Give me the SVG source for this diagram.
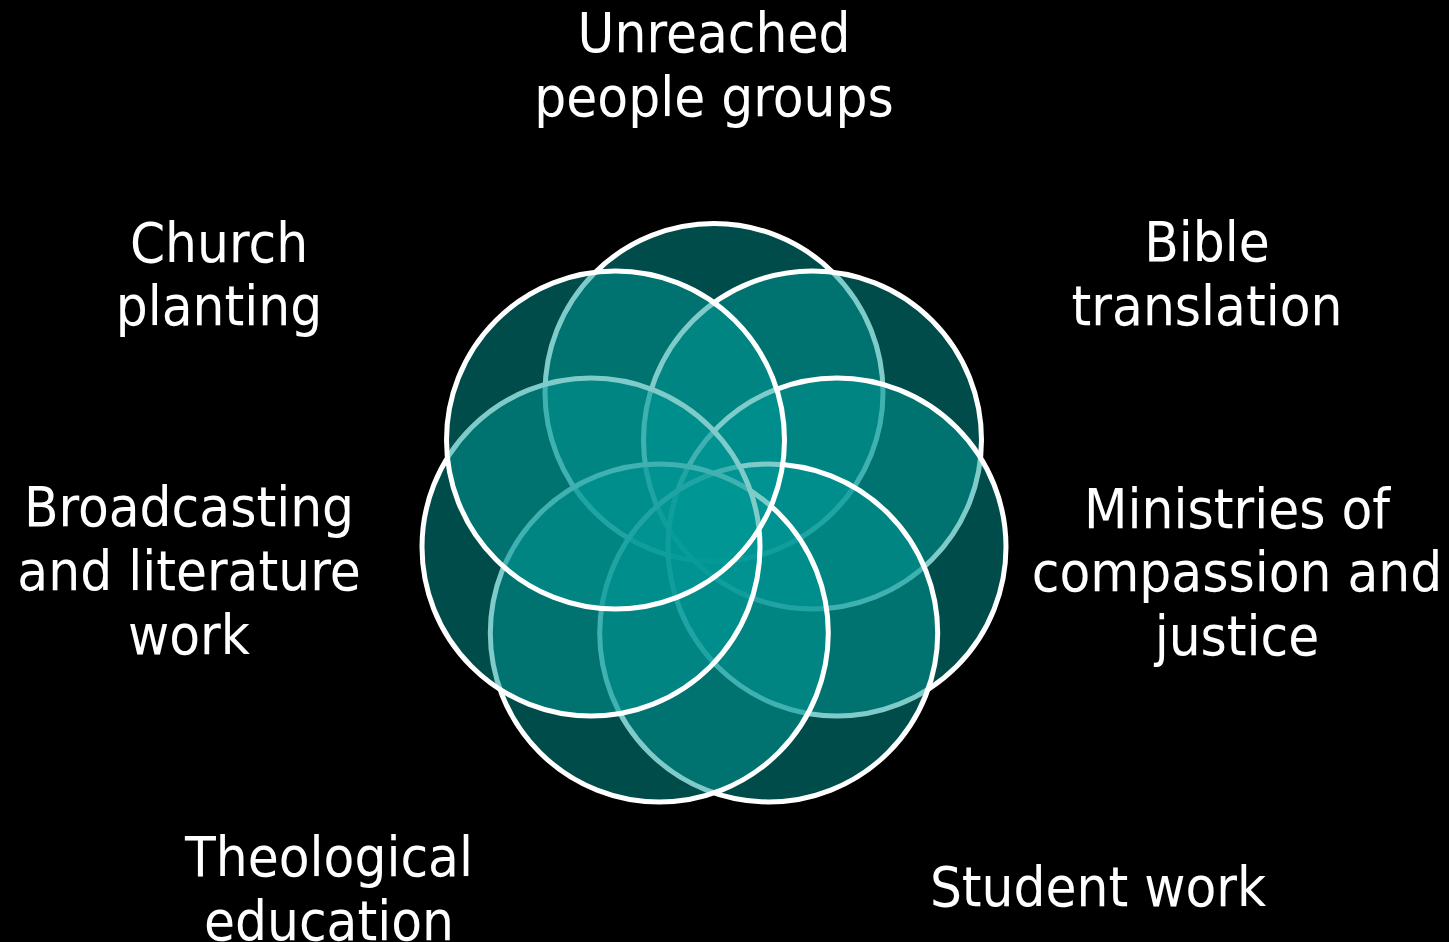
<svg xmlns="http://www.w3.org/2000/svg" width="1449" height="942" viewBox="0 0 1449 942">
<style>
.c{fill:rgb(0,152,150);fill-opacity:0.5;stroke:#ffffff;stroke-width:5}
.t{font-family:"DejaVu Sans Condensed","DejaVu Sans",sans-serif;font-stretch:condensed;font-size:56px;fill:#ffffff;text-anchor:middle}
</style>
<rect width="1449" height="942" fill="#000000"/>
<g id="circles">
<g id="n1"><circle class="c" cx="714" cy="392.5" r="169"/></g>
<g id="n2"><circle class="c" cx="812.5" cy="440" r="169"/></g>
<g id="n3"><circle class="c" cx="837" cy="547" r="169"/></g>
<g id="n4"><circle class="c" cx="768.7" cy="633" r="169"/></g>
<g id="n5"><circle class="c" cx="659.3" cy="633" r="169"/></g>
<g id="n6"><circle class="c" cx="591" cy="547" r="169"/></g>
<g id="n7"><circle class="c" cx="615.5" cy="440" r="169"/></g>
</g>
<g id="connectors"></g>
<g id="labels">
<g id="l1"><text class="t" x="714" y="52">Unreached</text><text class="t" x="714" y="116">people groups</text></g>
<g id="l2"><text class="t" x="1207" y="261">Bible</text><text class="t" x="1207" y="325">translation</text></g>
<g id="l3"><text class="t" x="1237" y="528">Ministries of</text><text class="t" x="1237" y="591">compassion and</text><text class="t" x="1237" y="655">justice</text></g>
<g id="l4"><text class="t" x="1098" y="906">Student work</text></g>
<g id="l5"><text class="t" x="329" y="876">Theological</text><text class="t" x="329" y="940">education</text></g>
<g id="l6"><text class="t" x="189" y="526">Broadcasting</text><text class="t" x="189" y="590">and literature</text><text class="t" x="189" y="654">work</text></g>
<g id="l7"><text class="t" x="219" y="262">Church</text><text class="t" x="219" y="325">planting</text></g>
</g>
</svg>
